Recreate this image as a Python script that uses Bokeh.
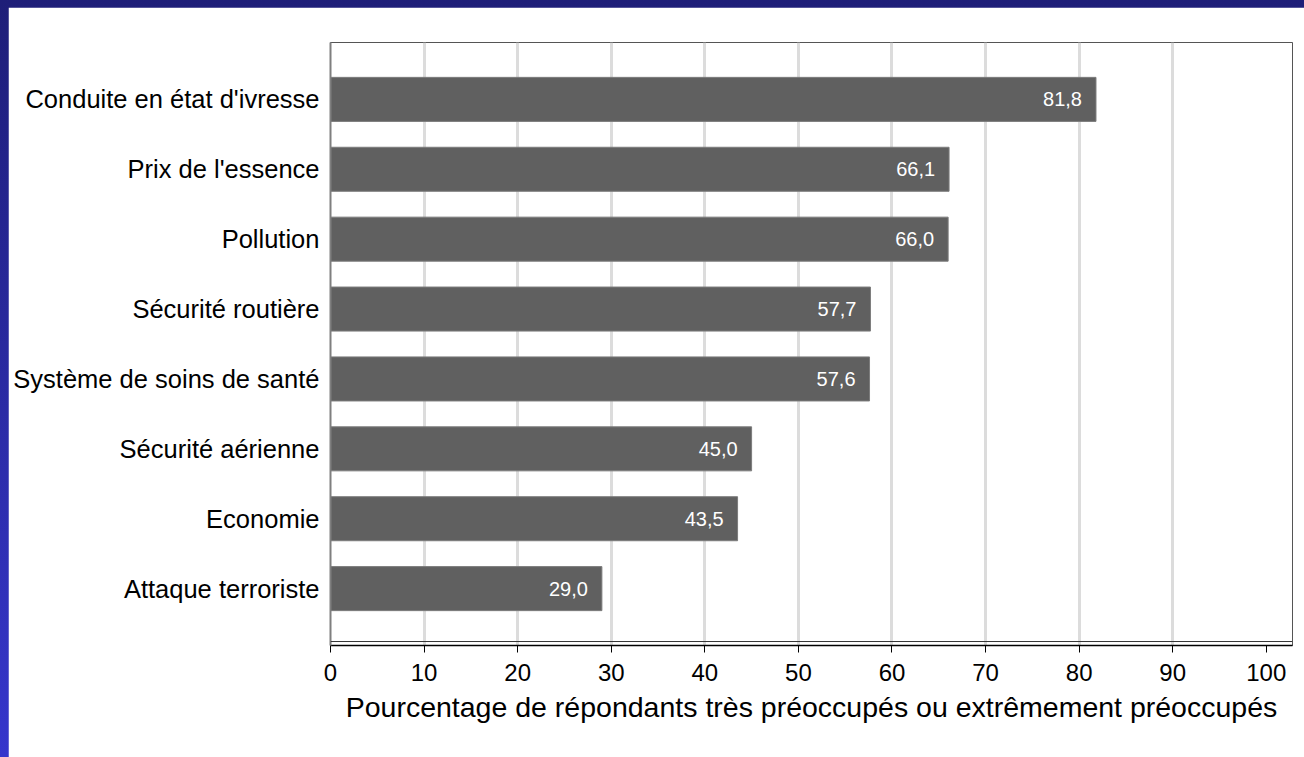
from bokeh.plotting import figure
from bokeh.layouts import column
from bokeh.models import Range1d, FixedTicker, ColumnDataSource, Span
from bokeh.core.properties import value
from bokeh.embed import file_html
from bokeh.resources import INLINE

# Concerns and share of respondents (very or extremely concerned), in %
categories = [
    "Conduite en état d'ivresse",
    "Prix de l'essence",
    "Pollution",
    "Sécurité routière",
    "Système de soins de santé",
    "Sécurité aérienne",
    "Economie",
    "Attaque terroriste",
]
percentages = [81.8, 66.1, 66.0, 57.7, 57.6, 45.0, 43.5, 29.0]
x_ticks = [0, 10, 20, 30, 40, 50, 60, 70, 80, 90, 100]
x_title = "Pourcentage de répondants très préoccupés ou extrêmement préoccupés"

FONT = "Liberation Sans"

positions = list(range(len(categories)))
labels = [f"{v:.1f}".replace(".", ",") for v in percentages]
src = ColumnDataSource(dict(y=positions, v=percentages, lab=labels))

pad = 0.814
p = figure(
    width=1296, height=750,
    x_range=Range1d(0, 102.8),
    y_range=Range1d(len(categories) - 1 + pad, -pad),
    output_backend="svg", toolbar_location=None,
    min_border_left=322, min_border_right=12,
    min_border_top=35, min_border_bottom=112,
    background_fill_color="white", border_fill_color="white",
)
p.outline_line_color = "#555555"
p.outline_line_width = 1

# vertical grid lines
p.xgrid.ticker = FixedTicker(ticks=x_ticks[1:-1])
p.xgrid.grid_line_color = "#dcdcdc"
p.xgrid.grid_line_width = 3
p.ygrid.grid_line_color = None

# bars
p.hbar(y="y", left=0, right="v", height=0.63, source=src,
       fill_color="#606060", line_color="#7c7c7c", line_width=1)

# values inside the bars
p.text(x="v", y="y", text="lab", source=src, x_offset=-14,
       text_align="right", text_baseline="middle",
       text_color="white", text_font=value(FONT), text_font_size="20px")

# inner frame line just above the x axis
p.add_layout(Span(location=len(categories) - 1 + pad - 0.057,
                  dimension="width", line_color="#333333", line_width=1))

# x axis
xa = p.xaxis[0]
xa.ticker = FixedTicker(ticks=x_ticks)
xa.axis_line_color = "black"
xa.axis_line_width = 1.5
xa.major_tick_line_color = "black"
xa.major_tick_out = 7
xa.major_tick_in = 0
xa.minor_tick_line_color = None
xa.major_label_text_font = FONT
xa.major_label_text_font_size = "24px"
xa.major_label_text_color = "black"
xa.major_label_standoff = 11
xa.axis_label = x_title
xa.axis_label_text_font = FONT
xa.axis_label_text_font_size = "28.5px"
xa.axis_label_text_font_style = "normal"
xa.axis_label_text_color = "black"
xa.axis_label_standoff = 7

# y axis with category names
ya = p.yaxis[0]
ya.ticker = FixedTicker(ticks=positions)
ya.major_label_overrides = {i: c for i, c in zip(positions, categories)}
ya.axis_line_color = "#7f7f7f"
ya.axis_line_width = 2
ya.major_tick_line_color = None
ya.minor_tick_line_color = None
ya.major_label_text_font = FONT
ya.major_label_text_font_size = "25.5px"
ya.major_label_text_color = "black"
ya.major_label_standoff = 5

page = column(p, styles={
    "background": "linear-gradient(#1e1e78, #3636cc)",
    "padding": "7px 0 0 8px",
})

with open("out.html", "w") as f:
    f.write(file_html(page, INLINE))
